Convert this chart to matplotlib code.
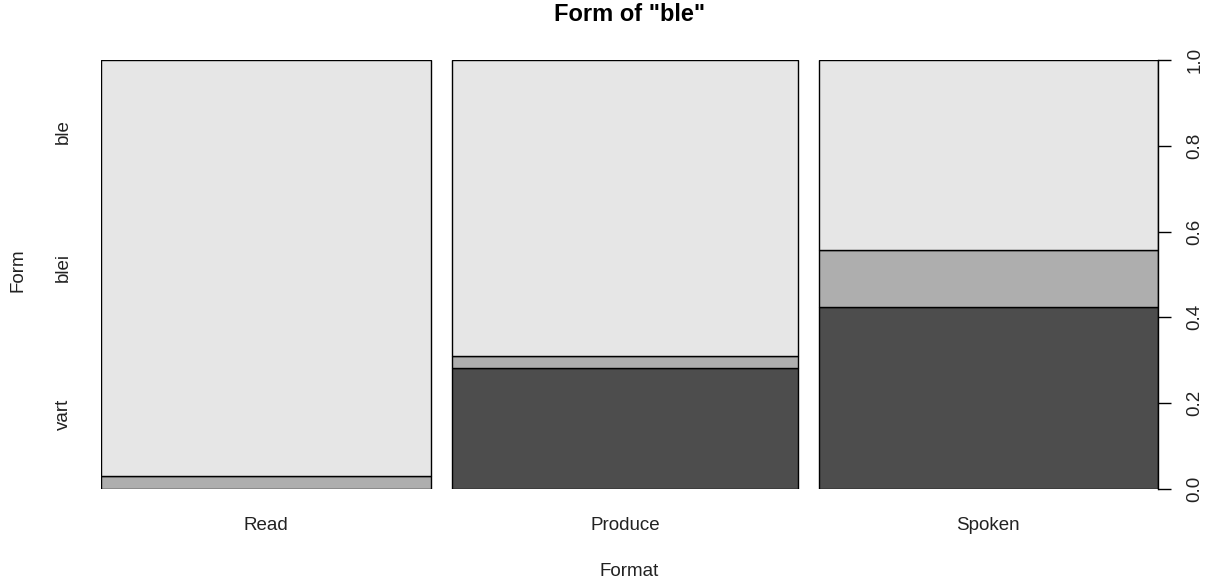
import matplotlib
matplotlib.use("Agg")
import matplotlib.pyplot as plt
import numpy as np

plt.rcParams['font.family'] = ['Liberation Sans', 'DejaVu Sans']

# spineplot data: share of each format and conditional proportions of each form
formats = ['Read', 'Produce', 'Spoken']
format_share = [0.325, 0.341, 0.334]
forms = ['vart', 'blei', 'ble']
vart = [0.000, 0.281, 0.424]
blei = [0.031, 0.029, 0.132]
ble = [0.969, 0.690, 0.444]
form_colors = ['#4D4D4D', '#AEAEAE', '#E6E6E6']
form_label_pos = [0.175, 0.517, 0.834]
gap = 0.02

fig = plt.figure(figsize=(12.08, 5.85), dpi=100)
ax = fig.add_axes([101 / 1208, 1 - 489 / 585, (1158 - 101) / 1208, 429 / 585])

lefts = np.concatenate([[0], np.cumsum(np.array(format_share) + gap)[:-1]])
bottom = np.zeros(len(formats))
for vals, col in zip([vart, blei, ble], form_colors):
    ax.bar(lefts, vals, width=format_share, bottom=bottom, align='edge',
           color=col, edgecolor='black', linewidth=1.0)
    bottom += np.array(vals)

ax.set_xlim(0, lefts[-1] + format_share[-1])
ax.set_ylim(0, 1)
for s in ax.spines.values():
    s.set_visible(False)

# x axis: format names, no ticks
ax.set_xticks(lefts + np.array(format_share) / 2)
ax.set_xticklabels(formats, fontsize=13.5, color='#222222')
ax.tick_params(axis='x', length=0, pad=20)

# left axis: form names
ax.set_yticks(form_label_pos)
ax.set_yticklabels(forms, rotation=90, va='center', fontsize=13.5, color='#222222')
ax.tick_params(axis='y', length=0, pad=21)

# right axis: proportion scale
ax2 = ax.twinx()
ax2.set_ylim(0, 1)
for s in ['top', 'left', 'bottom']:
    ax2.spines[s].set_visible(False)
ax2.spines['right'].set_linewidth(1.0)
ax2.set_yticks([0.0, 0.2, 0.4, 0.6, 0.8, 1.0])
ax2.set_yticklabels(['0.0', '0.2', '0.4', '0.6', '0.8', '1.0'], rotation=90,
                    va='center', fontsize=13.5, color='#222222')
ax2.tick_params(axis='y', length=9.4, width=1.0, pad=11)

ax.set_title('Form of "ble"', fontsize=17, fontweight='bold', pad=28)
fig.text(629.5 / 1208, 1 - 572 / 585, 'Format', ha='center', va='center',
         fontsize=13.5, color='#222222')
fig.text(18 / 1208, 1 - 270 / 585, 'Form', ha='center', va='center',
         rotation=90, fontsize=13.5, color='#222222')

fig.savefig('out.png', dpi=100)
